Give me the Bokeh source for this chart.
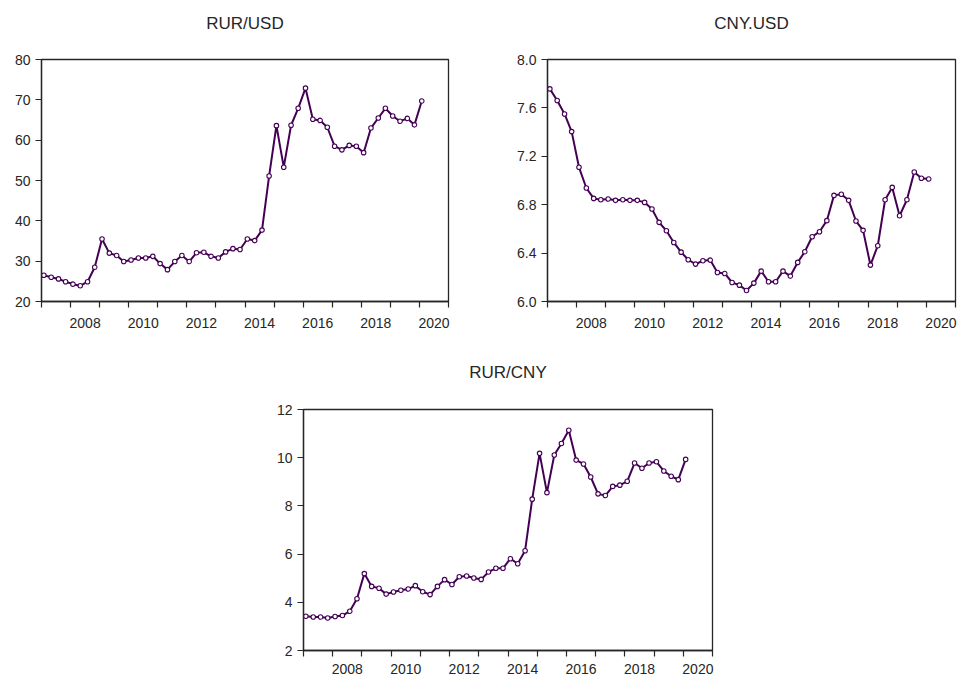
import calendar
from bokeh.plotting import figure
from bokeh.models import Range1d, FixedTicker, Spacer, PrintfTickFormatter
from bokeh.layouts import row, column
from bokeh.embed import file_html
from bokeh.resources import INLINE

# ---------------- data ----------------
first_year, first_month, n_quarters = 2006, 7, 53

rur_usd = [26.5, 26.0, 25.6, 24.9, 24.3, 23.9, 24.9, 28.5, 35.5, 32.0,
           31.4, 29.9, 30.3, 30.8, 30.8, 31.2, 29.4, 27.9, 29.9, 31.4,
           29.9, 32.1, 32.2, 31.2, 30.8, 32.3, 33.1, 32.9, 35.5, 35.1,
           37.7, 51.1, 63.6, 53.3, 63.7, 67.9, 72.9, 65.2, 64.9, 63.2,
           58.5, 57.6, 58.7, 58.5, 56.9, 63.0, 65.5, 67.9, 66.0, 64.7,
           65.4, 63.8, 69.7]

cny_usd = [7.757, 7.661, 7.550, 7.404, 7.109, 6.938, 6.852, 6.841, 6.847, 6.836,
           6.841, 6.836, 6.836, 6.819, 6.764, 6.654, 6.585, 6.488, 6.408, 6.345,
           6.309, 6.337, 6.342, 6.240, 6.232, 6.157, 6.135, 6.091, 6.152, 6.251,
           6.163, 6.163, 6.251, 6.210, 6.323, 6.411, 6.535, 6.577, 6.668, 6.877,
           6.886, 6.836, 6.665, 6.588, 6.301, 6.461, 6.841, 6.943, 6.709, 6.841,
           7.070, 7.018, 7.012]

rur_cny = [3.42, 3.39, 3.39, 3.35, 3.41, 3.45, 3.63, 4.15, 5.19, 4.66,
           4.58, 4.34, 4.43, 4.50, 4.55, 4.69, 4.44, 4.32, 4.66, 4.94,
           4.74, 5.06, 5.09, 5.01, 4.95, 5.26, 5.41, 5.41, 5.81, 5.60,
           6.14, 8.28, 10.18, 8.55, 10.11, 10.59, 11.14, 9.90, 9.74, 9.20,
           8.50, 8.43, 8.81, 8.86, 9.02, 9.78, 9.56, 9.78, 9.83, 9.45,
           9.23, 9.09, 9.93]

x_label_years = [2008, 2010, 2012, 2014, 2016, 2018, 2020]
x_tick_marks = [2006.5 + k for k in range(15)]
x_start, x_end = 2006.5, 2020.5

rur_usd_ticks = [20, 30, 40, 50, 60, 70, 80]
cny_usd_ticks = [6.0, 6.4, 6.8, 7.2, 7.6, 8.0]
rur_cny_ticks = [2, 4, 6, 8, 10, 12]

titles = ["RUR/USD", "CNY.USD", "RUR/CNY"]

# quarterly month-end dates -> fractional years
def quarter_positions():
    xs = []
    y, m = first_year, first_month
    for _ in range(n_quarters):
        days = 366 if calendar.isleap(y) else 365
        doy = sum(calendar.monthrange(y, mm)[1] for mm in range(1, m + 1))
        xs.append(y + doy / days)
        m += 3
        if m > 12:
            m -= 12
            y += 1
    return xs

xs = quarter_positions()

INK = "#262626"
LINE = "#440154"
FONT = "Liberation Sans"


def make_chart(title, vals, yticks, fmt, width, height, bl, br, bt, bb, x_standoff, t_standoff):
    p = figure(width=width, height=height, output_backend="svg", toolbar_location=None,
               x_range=Range1d(x_start, x_end), y_range=Range1d(yticks[0], yticks[-1]),
               min_border_left=bl, min_border_right=br, min_border_top=bt, min_border_bottom=bb)
    # an empty second line lifts the title further above the frame
    p.title.text = title + "\n "
    p.title.align = "center"
    p.title.text_font = FONT
    p.title.text_font_size = "17px"
    p.title.text_font_style = "normal"
    p.title.text_color = INK
    p.title.standoff = t_standoff
    p.grid.visible = False
    p.outline_line_color = INK
    p.outline_line_width = 1.3
    p.outline_line_alpha = 1.0
    p.background_fill_color = "white"
    p.border_fill_color = "white"

    xa = p.xaxis[0]
    xa.ticker = FixedTicker(ticks=x_label_years, minor_ticks=x_tick_marks)
    xa.major_tick_line_color = None
    xa.major_tick_out = 6
    xa.major_tick_in = 0
    xa.minor_tick_out = 6
    xa.minor_tick_in = 0
    xa.minor_tick_line_color = INK
    xa.minor_tick_line_width = 1.2
    xa.axis_line_color = INK
    xa.axis_line_width = 1.3
    xa.major_label_standoff = x_standoff
    xa.major_label_text_font = FONT
    xa.major_label_text_font_size = "14px"
    xa.major_label_text_color = INK

    ya = p.yaxis[0]
    ya.ticker = FixedTicker(ticks=yticks, minor_ticks=[])
    ya.formatter = PrintfTickFormatter(format=fmt)
    ya.major_tick_out = 6
    ya.major_tick_in = 0
    ya.major_tick_line_color = INK
    ya.major_tick_line_width = 1.2
    ya.minor_tick_line_color = None
    ya.axis_line_color = INK
    ya.axis_line_width = 1.3
    ya.major_label_standoff = 5
    ya.major_label_text_font = FONT
    ya.major_label_text_font_size = "14px"
    ya.major_label_text_color = INK

    p.line(xs, vals, line_color=LINE, line_width=2)
    p.scatter(xs, vals, marker="circle", size=4.5, fill_color="white",
              line_color=LINE, line_width=1.1)
    return p


p1 = make_chart(titles[0], rur_usd, rur_usd_ticks, "%d", 490, 340, 41, 42, 59, 39, 10, 16)
p2 = make_chart(titles[1], cny_usd, cny_usd_ticks, "%.1f", 467, 340, 57, 2, 59, 39, 10, 16)
p3 = make_chart(titles[2], rur_cny, rur_cny_ticks, "%d", 490, 339, 53, 28, 69, 29, 7, 18)

layout = column(row(p1, p2), row(Spacer(width=250, height=339), p3))

open("out.html", "w").write(file_html(layout, INLINE))
